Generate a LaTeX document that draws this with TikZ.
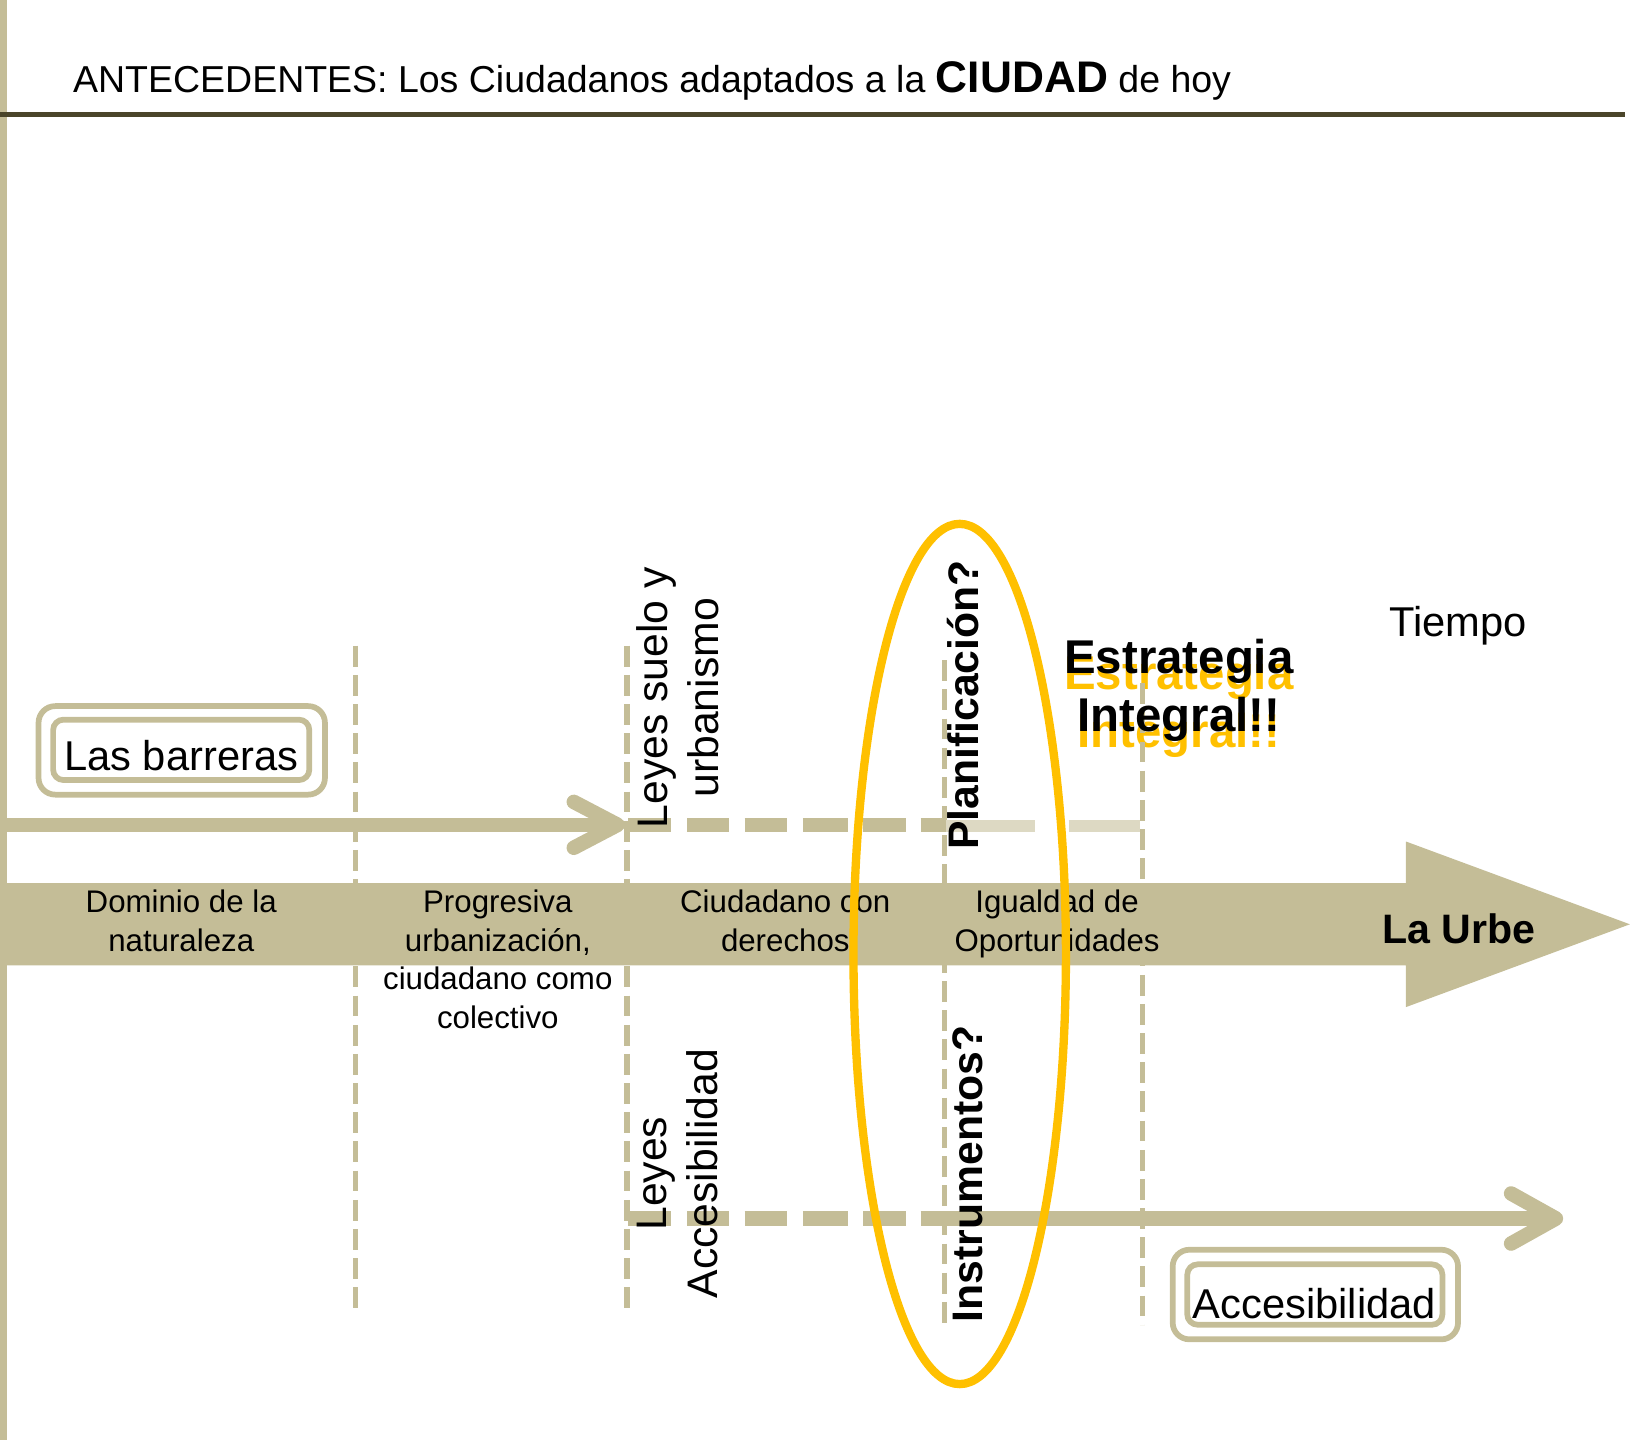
\documentclass[tikz,border=0pt]{standalone}
\usepackage{fontspec}
\setmainfont{Liberation Sans}
\definecolor{tan}{HTML}{C4BD97}
\definecolor{tanlight}{HTML}{DDD9C3}
\definecolor{olive}{HTML}{4A452A}
\definecolor{gold}{HTML}{FFC000}
\begin{document}
\begin{tikzpicture}[x=1pt,y=-1pt,
  tanline/.style={draw=tan, line width=14pt},
  lightline/.style={draw=tanlight, line width=11pt},
  chevron/.style={draw=tan, line width=14pt, line cap=round, line join=round},
  vdash/.style={draw=tan, line width=5pt, dash pattern=on 20pt off 8pt},
  dbox/.style={draw=tan, line width=5.5pt},
  bandtxt/.style={font=\fontsize{30}{37}\selectfont, align=center, inner sep=0pt},
  rottxt/.style={rotate=90, align=center, inner sep=0pt, font=\fontsize{41}{49}\selectfont},
  rotbold/.style={rotate=90, inner sep=0pt, font=\fontsize{41}{50}\selectfont\bfseries},
  strat/.style={font=\fontsize{45.5}{56}\selectfont\bfseries, align=center, inner sep=0pt},
  boxtxt/.style={anchor=base, inner sep=0pt, font=\fontsize{40}{48}\selectfont}]
\useasboundingbox (0,0) rectangle (1568,1383);
% left bar and title rule
\fill[tan] (0,0) rectangle (7,1383);
\draw[olive, line width=4.5pt] (0,110) -- (1560,110);
\node[anchor=base west, inner sep=0pt, font=\fontsize{36}{43}\selectfont] (title) at (70,89)
  {ANTECEDENTES: Los Ciudadanos adaptados a la {\fontsize{42.5}{50}\selectfont\bfseries CIUDAD} de hoy};
% vertical dashed separators
\coordinate (v1t) at (341,620); \coordinate (v1b) at (341,1258);
\coordinate (v2t) at (602,620); \coordinate (v2b) at (602,1258);
\coordinate (v3t) at (907,634); \coordinate (v3b) at (907,1270);
\coordinate (v4t) at (1097,656); \coordinate (v4b) at (1097,1272);
\draw[vdash] (v1t) -- (v1b);
\draw[vdash] (v2t) -- (v2b);
\draw[vdash] (v3t) -- (v3b);
% upper arrow (barreras)
\coordinate (ua0) at (0,792); \coordinate (uatip) at (593,792);
\draw[tanline] (ua0) -- (uatip);
\draw[chevron] (551,770) -- (uatip) -- (551,814);
\foreach \a/\b in {603/644,660/700,715/756,771/814,829/870,884/908}
  \draw[tanline] (\a,792) -- (\b,792);
\draw[lightline] (908,793) -- (994,793);
\draw[lightline] (1026,793) -- (1095,793);
% lower arrow (accesibilidad)
\coordinate (la0) at (884,1170); \coordinate (latip) at (1494,1170);
\foreach \a/\b in {603/644,660/700,715/756,771/814,829/870}
  \draw[tanline] (\a,1170) -- (\b,1170);
\draw[tanline] (la0) -- (latip);
\draw[chevron] (1451,1146) -- (latip) -- (1451,1194);
% main band arrow
\fill[tan] (0,848) -- (1350,848) -- (1350,808) -- (1565,887.5) -- (1350,967) -- (1350,927) -- (0,927) -- cycle;
% boxes
\draw[dbox, rounded corners=16pt] (37,678) rectangle (312,763);
\draw[dbox, rounded corners=10pt] (51,691) rectangle (297,749);
\node[boxtxt] (barr) at (174,740) {Las barreras};
\draw[dbox, rounded corners=16pt] (1126,1200) rectangle (1400,1286);
\draw[dbox, rounded corners=10pt] (1140,1214) rectangle (1385,1272);
\node[boxtxt] (acc) at (1262,1266) {Accesibilidad};
% band labels
\node[bandtxt] (dom) at (174,884) {Dominio de la\\naturaleza};
\node[bandtxt] (prog) at (478,921) {Progresiva\\urbanización,\\ciudadano como\\colectivo};
\node[bandtxt] (ciud) at (754,884) {Ciudadano con\\derechos};
\node[bandtxt] (igual) at (1015,887) {Igualdad de\\Oportunidades};
\node[anchor=base, inner sep=0pt, font=\fontsize{39.5}{48}\selectfont\bfseries] (urbe) at (1401,906) {La Urbe};
\node[boxtxt] (tiempo) at (1400,611) {Tiempo};
% strategy text
\node[strat, text=gold] (estrY) at (1132,678) {Estrategia\\Integral!!};
\draw[vdash] (v4t) -- (v4b);
\node[strat] (estr) at (1132,663) {Estrategia\\Integral!!};
% rotated texts
\node[rottxt] (leyes1) at (651,670) {Leyes suelo y\\urbanismo};
\node[rottxt] (leyes2) at (651,1127) {Leyes\\Accesibilidad};
\node[rotbold] (plan) at (925,677) {Planificación?};
\node[rotbold] (instr) at (929,1127) {Instrumentos?};
% highlight ellipse
\draw[gold, line width=8pt] (921.5,916) ellipse [x radius=102pt, y radius=413pt];
\end{tikzpicture}
\end{document}
